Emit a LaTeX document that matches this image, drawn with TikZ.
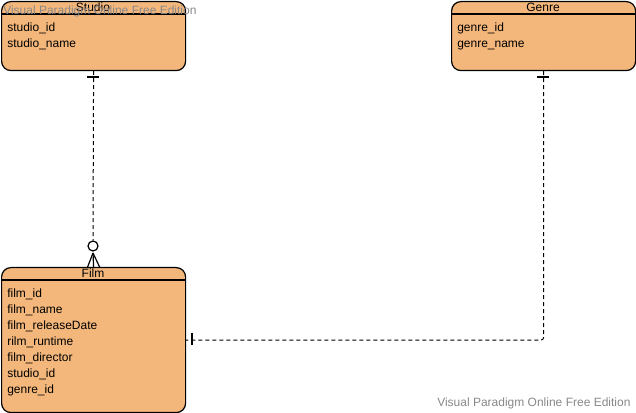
\documentclass[tikz,border=0pt]{standalone}
\usepackage{fontspec}
\setmainfont{Liberation Sans}
\usetikzlibrary{positioning}
\definecolor{erfill}{RGB}{244,183,123}
\definecolor{wmgray}{RGB}{136,136,136}
\tikzset{>=stealth}

\begin{document}
\begin{tikzpicture}[x=0.75pt,y=-0.75pt,
    entity/.style={draw, fill=erfill, rounded corners=7pt, line width=0.9pt,
      anchor=north west, inner sep=0, minimum width=138pt},
    attr/.style={anchor=base west, inner sep=0, font=\fontsize{9}{12}\selectfont},
    etitle/.style={inner sep=0, font=\fontsize{9}{12}\selectfont},
    rel/.style={dash pattern=on 3pt off 2.25pt, line width=0.75pt},
    endbar/.style={line width=0.9pt},
    watermark/.style={text=wmgray, inner sep=0, anchor=west, font=\fontsize{9}{11}\selectfont}]
  \useasboundingbox (0,0) rectangle (636,413);

  % entities
  \node [entity, minimum height=51.75pt] (studio) at (1,1) {};
  \node [entity, minimum height=51.75pt] (genre) at (451,1) {};
  \node [entity, minimum height=108.75pt] (film) at (1,267) {};

  \draw [line width=0.9pt] (studio.west |- 0,14) -- (studio.east |- 0,14);
  \draw [line width=0.9pt] (genre.west |- 0,14) -- (genre.east |- 0,14);
  \draw [line width=0.9pt] (film.west |- 0,280) -- (film.east |- 0,280);

  \node [etitle] (studio-title) at (93,7) {Studio};
  \node [etitle] (genre-title) at (543,7) {Genre};
  \node [etitle] (film-title) at (93,273) {Film};

  \foreach \a [count=\i from 0] in {studio\_id,studio\_name}
    \node [attr] (studio-\i) at (7,32+16*\i) {\a};
  \foreach \a [count=\i from 0] in {genre\_id,genre\_name}
    \node [attr] (genre-\i) at (457,32+16*\i) {\a};
  \foreach \a [count=\i from 0] in {film\_id,film\_name,film\_releaseDate,rilm\_runtime,film\_director,studio\_id,genre\_id}
    \node [attr] (film-\i) at (7,298+15.85*\i) {\a};

  % studio -- film
  \node [circle, draw, fill=white, line width=0.9pt, minimum size=7.5pt, inner sep=0] (optional) at (93,246) {};
  \coordinate (crow) at (93,253);
  \draw [rel] (studio.south) -- (optional.north);
  \draw [endbar] (87,77) -- (99,77);
  \draw [endbar] (crow) -- (film.north);
  \draw [endbar] (crow) -- ([xshift=-4.5pt]film.north);
  \draw [endbar] (crow) -- ([xshift=4.5pt]film.north);

  % genre -- film
  \draw [rel, rounded corners=2pt] (genre.south) |- (film.east);
  \draw [endbar] (537,77) -- (549,77);
  \draw [endbar] (192,333) -- (192,345);

  \node [watermark] (wm-top) at (3,11) {Visual Paradigm Online Free Edition};
  \node [watermark] (wm-bottom) at (437,403) {Visual Paradigm Online Free Edition};
\end{tikzpicture}
\end{document}
